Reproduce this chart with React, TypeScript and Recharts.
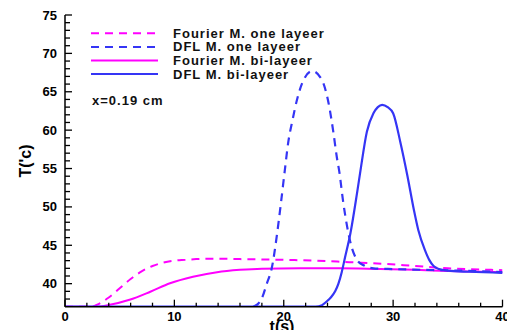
import React from "react";
import { LineChart, Line, XAxis, YAxis, Customized } from "recharts";

const fourierOneT = [0, 2.4, 3, 4, 5, 6, 7, 8, 9, 10, 11, 12, 14, 16, 20, 23, 26, 29, 32, 35, 38, 40];
const fourierOneV = [37, 37, 37.3, 38.2, 39.4, 40.6, 41.6, 42.3, 42.75, 43.0, 43.1, 43.2, 43.25, 43.2, 43.1, 43.0, 42.8, 42.6, 42.3, 42.0, 41.85, 41.75];

const fourierBiT = [0, 2.8, 4.1, 5.9, 7.8, 9.6, 11.7, 13.9, 16, 18, 21.5, 25, 28.8, 32, 35, 38, 40];
const fourierBiV = [37, 37, 37.25, 37.9, 38.95, 40.05, 40.9, 41.5, 41.8, 41.95, 42.0, 42.0, 41.9, 41.8, 41.65, 41.55, 41.5];

const dflOneT = [17.2, 17.6, 18, 18.45, 18.9, 19.4, 19.7, 20.1, 20.4, 20.8, 21.2, 21.8, 22.6, 23.5, 24.1, 24.55, 24.85, 25.1, 25.4, 25.8, 26.2, 26.7, 27.3, 28.2, 30, 33, 36, 40];
const dflOneV = [37, 37.3, 38.1, 40.0, 42.0, 46.6, 50.0, 54.8, 58.3, 61.3, 63.9, 66.5, 67.7, 66.5, 63.5, 59.6, 56.5, 54.4, 51.0, 47.4, 44.8, 43.1, 42.4, 42.0, 41.9, 41.8, 41.7, 41.5];

const dflBiT = [0, 22.9, 23.5, 23.9, 24.3, 24.7, 25.0, 25.3, 25.6, 26.1, 26.7, 27.0, 27.6, 28.2, 28.6, 29.0, 29.5, 30.0, 30.65, 31.3, 31.9, 32.3, 32.9, 33.3, 33.7, 34.2, 35, 37, 40];
const dflBiV = [37, 37, 37.2, 37.65, 38.2, 39.0, 40.0, 41.5, 43.4, 46.6, 51.8, 54.6, 59.8, 62.2, 63.0, 63.3, 63.0, 62.2, 58.5, 54.1, 49.6, 47.0, 44.4, 43.1, 42.3, 41.9, 41.7, 41.55, 41.4];

const xTicks = [0, 2, 4, 6, 8, 10, 12, 14, 16, 18, 20, 22, 24, 26, 28, 30, 32, 34, 36, 38, 40];
const xLabels = [0, 10, 20, 30, 40];
const yTicks = [38, 39, 40, 41, 42, 43, 44, 45, 46, 47, 48, 49, 50, 51, 52, 53, 54, 55, 56, 57, 58, 59, 60, 61, 62, 63, 64, 65, 66, 67, 68, 69, 70, 71, 72, 73, 74, 75];
const yLabels = [40, 45, 50, 55, 60, 65, 70, 75];

const legendItems = [
  { name: "Fourier M. one layeer", color: "#ff00ff", dash: "8 6" },
  { name: "DFL M. one layeer", color: "#3535f5", dash: "8 6" },
  { name: "Fourier M. bi-layeer", color: "#ff00ff", dash: "" },
  { name: "DFL M. bi-layeer", color: "#3535f5", dash: "" },
];

const zip = (t: number[], v: number[]) => t.map((x, i) => ({ t: x, v: v[i] }));

const FONT = "'Liberation Sans', Arial, sans-serif";

const XTick = (props: any) => {
  const { x, y, payload } = props;
  const major = xLabels.includes(payload.value);
  return (
    <g>
      <line x1={x} x2={x} y1={y} y2={y - (major ? 7 : 4)} stroke="#000" strokeWidth={1.3} />
      {major && (
        <text x={x} y={y + 14} textAnchor="middle" fontFamily={FONT} fontWeight="bold" fontSize={13} fill="#000">
          {payload.value}
        </text>
      )}
    </g>
  );
};

const YTick = (props: any) => {
  const { x, y, payload } = props;
  const major = yLabels.includes(payload.value);
  return (
    <g>
      <line x1={x} x2={x + (major ? 7 : 5)} y1={y} y2={y} stroke="#000" strokeWidth={1.3} />
      {major && (
        <text x={x - 8} y={y + 4.5} textAnchor="end" fontFamily={FONT} fontWeight="bold" fontSize={13} fill="#000">
          {payload.value}
        </text>
      )}
    </g>
  );
};

const Legend = () => (
  <g>
    {legendItems.map((it, i) => {
      const y = 33.3 + i * 13.6;
      return (
        <g key={it.name}>
          <line x1={91} x2={158} y1={y} y2={y} stroke={it.color} strokeWidth={2} strokeDasharray={it.dash || undefined} />
          <text x={173} y={y + 4.5} fontFamily={FONT} fontWeight="bold" fontSize={13} fill="#111" letterSpacing={1.0}>
            {it.name}
          </text>
        </g>
      );
    })}
    <text x={92} y={105} fontFamily={FONT} fontWeight="bold" fontSize={13} fill="#111" letterSpacing={1.0}>
      x=0.19 cm
    </text>
    <text x={282} y={332} textAnchor="middle" fontFamily={FONT} fontWeight="bold" fontSize={16} fill="#000">
      t(s)
    </text>
    <text
      x={25}
      y={161}
      textAnchor="middle"
      dominantBaseline="central"
      transform="rotate(-90 25 161)"
      fontFamily={FONT}
      fontWeight="bold"
      fontSize={16}
      fill="#000"
    >
      T('c)
    </text>
  </g>
);

export default function App() {
  return (
    <div style={{ position: "fixed", left: 0, top: 0, width: 507, height: 330, background: "#fff" }}>
      <LineChart width={507} height={330} margin={{ top: 15, right: 4.5, bottom: 3.3, left: 8 }}>
        <XAxis
          xAxisId="b"
          dataKey="t"
          type="number"
          domain={[0, 40]}
          ticks={xTicks}
          tickSize={0}
          tickMargin={0}
          tickLine={false}
          tick={<XTick />}
          height={20}
          axisLine={{ stroke: "#000", strokeWidth: 1.5 }}
          allowDataOverflow
          interval={0}
        />
        <XAxis xAxisId="top" orientation="top" type="number" domain={[0, 40]} tick={false} tickLine={false} height={0} axisLine={{ stroke: "#000", strokeWidth: 1.5 }} />
        <YAxis
          yAxisId="l"
          type="number"
          domain={[37, 75]}
          ticks={yTicks}
          tickSize={0}
          tickMargin={0}
          tickLine={false}
          tick={<YTick />}
          width={57}
          axisLine={{ stroke: "#000", strokeWidth: 1.5 }}
          allowDataOverflow
          interval={0}
        />
        <YAxis yAxisId="r" orientation="right" type="number" domain={[37, 75]} tick={false} tickLine={false} width={0} axisLine={{ stroke: "#000", strokeWidth: 1.5 }} />
        <Line xAxisId="b" yAxisId="l" data={zip(fourierOneT, fourierOneV)} dataKey="v" type="monotone" stroke="#ff00ff" strokeWidth={2} strokeDasharray="8 6" dot={false} isAnimationActive={false} />
        <Line xAxisId="b" yAxisId="l" data={zip(fourierBiT, fourierBiV)} dataKey="v" type="monotone" stroke="#ff00ff" strokeWidth={2} dot={false} isAnimationActive={false} />
        <Line xAxisId="b" yAxisId="l" data={zip(dflOneT, dflOneV)} dataKey="v" type="monotone" stroke="#3535f5" strokeWidth={2.2} strokeDasharray="8 6" dot={false} isAnimationActive={false} />
        <Line xAxisId="b" yAxisId="l" data={zip(dflBiT, dflBiV)} dataKey="v" type="monotone" stroke="#3535f5" strokeWidth={2.2} dot={false} isAnimationActive={false} />
        <Customized component={<Legend />} />
      </LineChart>
    </div>
  );
}
